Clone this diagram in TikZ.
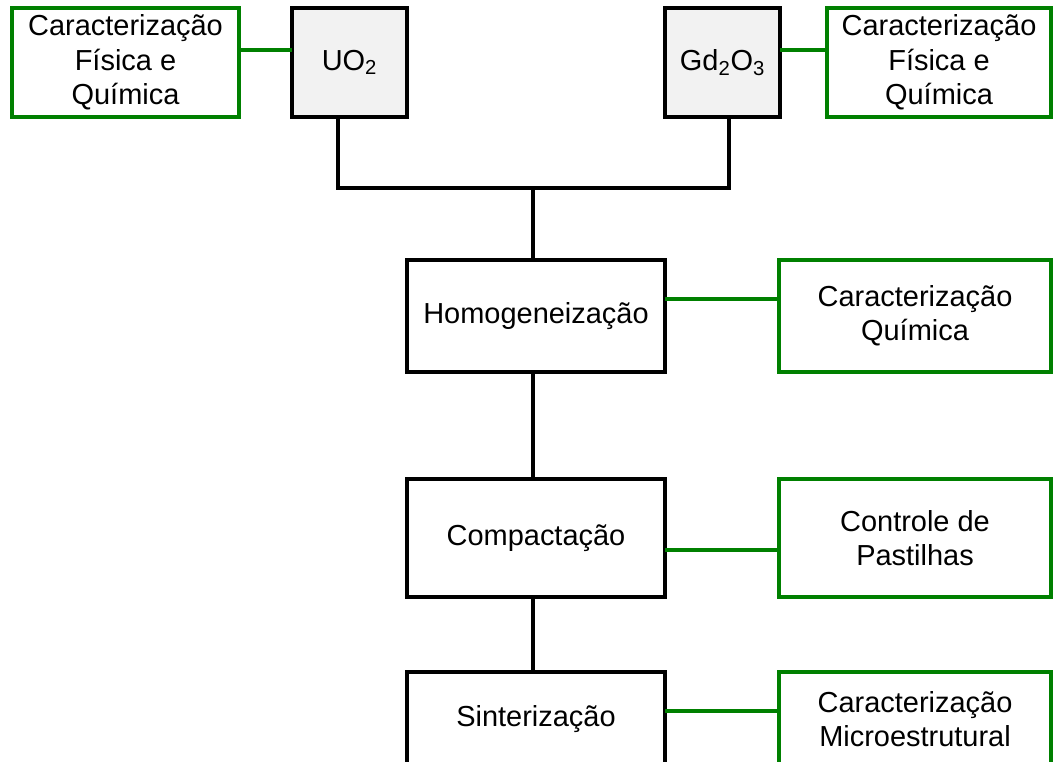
\documentclass[tikz,border=0pt]{standalone}
\usepackage{fontspec}
\setmainfont{Liberation Sans}
\usepackage{xcolor}
\usepackage{tikz}
\usetikzlibrary{positioning}

\definecolor{boxgreen}{RGB}{0,128,0}
\definecolor{boxgray}{RGB}{242,242,242}

\begin{document}
\begin{tikzpicture}[
  font=\fontsize{20.6}{24.4}\selectfont,
  box/.style={draw, line width=2.8pt, outer sep=0pt, minimum width=6.45cm, minimum height=2.8cm, align=center},
  gbox/.style={draw=boxgreen, line width=2.4pt, outer sep=0pt, minimum width=6.8cm, minimum height=2.8cm, align=center},
  oxide/.style={box, fill=boxgray, minimum width=2.875cm, minimum height=2.725cm},
  link/.style={line width=2.8pt},
  glink/.style={draw=boxgreen, line width=2.4pt}
]
\useasboundingbox (0,0) rectangle (26.35,-19.05);
\clip (0,0) rectangle (26.35,-19.05);

% Top row
\node[gbox, minimum width=5.675cm, minimum height=2.725cm] (gfq1) at (3.1375,-1.5625) {Caracterização\\Física e\\Química};
\node[oxide, right=1.325cm of gfq1] (uo2) {UO\textsubscript{2}};
\node[gbox, minimum width=5.6cm, minimum height=2.725cm] (gfq2) at (23.475,-1.5625) {Caracterização\\Física e\\Química};
\node[oxide, left=1.175cm of gfq2] (gd) {Gd\textsubscript{2}O\textsubscript{3}};
% Process column
\node[box] (homog) at (13.4,-7.9) {Homogeneização};
\node[box, minimum height=2.95cm, below=2.675cm of homog] (compact) {Compactação};
\node[box, minimum height=2.35cm, below=1.875cm of compact] (sinter) {Sinterização};
% Controls
\node[gbox, right=2.85cm of homog] (chq) {Caracterização\\Química};
\node[gbox, minimum height=2.95cm, right=2.85cm of compact] (cpast) {Controle de\\Pastilhas};
\node[gbox, minimum height=2.35cm, right=2.85cm of sinter] (cmic) {Caracterização\\Microestrutural};
\coordinate (mix) at (13.325,-4.7);

% Pointers
\draw[glink] ([yshift=0.3125cm]gfq1.east) -- ([yshift=0.3125cm]uo2.west);
\draw[glink] ([yshift=0.3125cm]gd.east) -- ([yshift=0.3125cm]gfq2.west);
\draw[link] ([xshift=-0.2875cm]uo2.south) |- (mix) -| ([xshift=0.1625cm]gd.south);
\draw[link] (mix) -- (mix |- homog.north);
\draw[link] (mix |- homog.south) -- (mix |- compact.north);
\draw[link] (mix |- compact.south) -- (mix |- sinter.north);
\draw[glink] ([yshift=0.425cm]homog.east) -- ([yshift=0.425cm]chq.west);
\draw[glink] ([yshift=-0.3cm]compact.east) -- ([yshift=-0.3cm]cpast.west);
\draw[glink] ([yshift=0.2cm]sinter.east) -- ([yshift=0.2cm]cmic.west);
\end{tikzpicture}
\end{document}
